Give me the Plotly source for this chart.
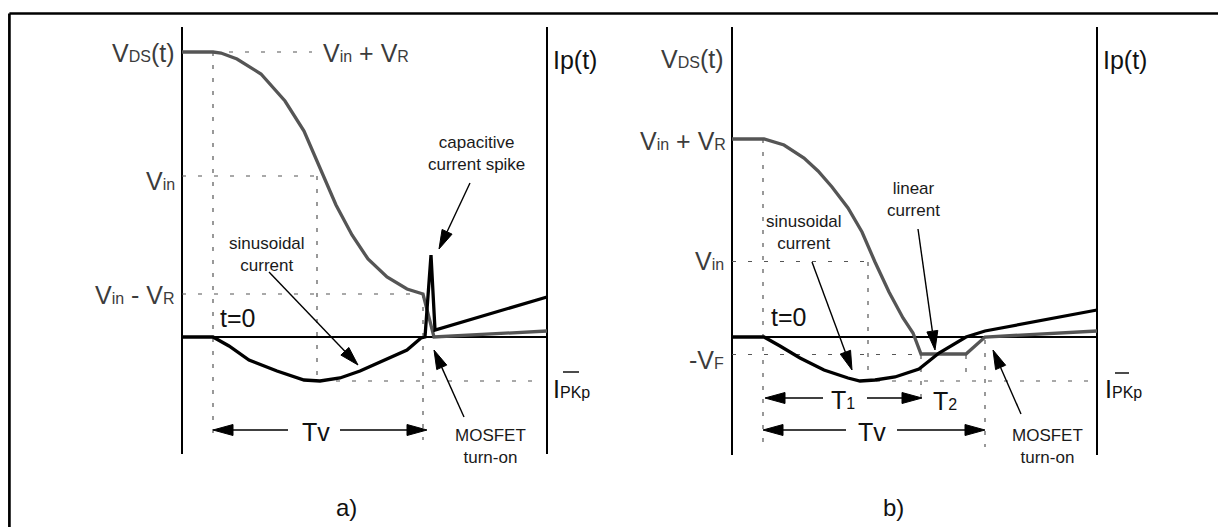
import math
import plotly.graph_objects as go

W, H = 1226, 527
OFF = 8  # the page body margin shifts the figure; the ranges compensate for it
FONT = "Liberation Sans, Arial, sans-serif"
GRAY = "#555555"
LABEL = "#3c3c3c"

# ---- panel a) waveforms (drawing coordinates, px) ----
vds_a_x = [182, 213, 221, 237, 261, 285, 304, 320, 336, 352, 368, 387, 407, 423, 434, 547]
vds_a_y = [52, 52, 53, 59, 74, 101, 131, 168, 205, 235, 259, 277, 289, 294, 337, 331]
ip_a_x = [182, 213, 229, 249, 277, 304, 320, 340, 360, 383, 407, 421, 425, 431, 435, 547]
ip_a_y = [337, 337, 346, 360, 371, 380, 381, 378, 371, 361, 350, 338, 337, 255, 330, 297]

# ---- panel b) waveforms ----
vds_b_x = [732, 764, 784, 804, 818, 832, 848, 862, 875, 889, 903, 913, 921, 966, 985, 1097]
vds_b_y = [139, 139, 145, 158, 171, 187, 208, 232, 262, 292, 318, 333, 354, 354, 337, 331]
ip_b_x = [732, 764, 780, 800, 824, 848, 860, 875, 895, 919, 939, 966, 985, 1097]
ip_b_y = [337, 337, 346, 358, 370, 378, 381, 380, 377, 369, 353, 337, 331, 310]

# axes: x, top, bottom
axes_v = [(182, 27, 454), (547, 27, 454), (732, 27, 455), (1097, 27, 455)]
# zero lines: x0, x1, y
zero_h = [(182, 547, 337), (732, 1097, 337)]
# dashed levels: x0, x1, y
levels_h = [(213, 312, 52), (182, 317, 176), (182, 423, 294), (320, 537, 381),
            (732, 868, 261.5), (732, 921, 354.5), (860, 1090, 381)]
# dotted time markers: x, y0, y1
marks_v = [(213, 52, 440), (317, 176, 380), (423, 294, 440),
           (763, 139, 447), (868, 262, 378), (921, 355, 398), (966, 355, 381), (985, 340, 447)]

# arrows: tail (x, y), tip (x, y)
dim_arrows = [((288, 430), (213, 430)), ((340, 430), (427, 430)),
              ((823, 398), (765, 398)), ((867, 398), (922, 398)),
              ((846, 430), (763, 430)), ((897, 430), (985, 430))]
note_arrows = [((470, 183), (439, 249)), ((269, 272), (358, 365)), ((464, 417), (434, 350)),
               ((812, 262), (852, 370)), ((918, 229), (935, 350)), ((1021, 414), (993, 350))]

# overline segments on the I_PKp labels: x0, x1, y
overlines = [(563, 579, 372), (1115, 1129, 373)]


def s(t):
    return f"<span style='font-size:16px'>{t}</span>"


# label text, x, y, anchor, size, colour
labels = [
    (f"V{s('DS')}(t)", 177, 53, "right", 25, LABEL),
    (f"V{s('in')} + V{s('R')}", 321, 53, "left", 25, LABEL),
    (f"V{s('in')}", 177, 181, "right", 25, LABEL),
    (f"V{s('in')} - V{s('R')}", 177, 295, "right", 25, LABEL),
    ("Ip(t)", 551, 60, "left", 25, "#111111"),
    (f"I{s('PKp')}", 551, 389, "left", 25, "#111111"),
    ("t=0", 218, 318, "left", 25, "#111111"),
    ("Tv", 316, 432, "center", 25, "#111111"),
    ("a)", 346, 507, "center", 24, "#111111"),
    (f"V{s('DS')}(t)", 726, 59, "right", 25, LABEL),
    (f"V{s('in')} + V{s('R')}", 728, 141, "right", 25, LABEL),
    (f"V{s('in')}", 726, 261, "right", 25, LABEL),
    (f"-V{s('F')}", 726, 360, "right", 25, LABEL),
    ("Ip(t)", 1101, 60, "left", 25, "#111111"),
    (f"I{s('PKp')}", 1103, 389, "left", 25, "#111111"),
    ("t=0", 769, 317, "left", 25, "#111111"),
    (f"T{s('1')}", 843, 400, "center", 25, "#111111"),
    (f"T{s('2')}", 945, 401, "center", 25, "#111111"),
    ("Tv", 872, 432, "center", 25, "#111111"),
    ("b)", 893, 507, "center", 24, "#111111"),
]
notes = [
    ("capacitive<br>current spike", 476, 153),
    ("sinusoidal<br>current", 267, 254),
    ("MOSFET<br>turn-on", 490, 446),
    ("sinusoidal<br>current", 804, 232),
    ("linear<br>current", 913, 199),
    ("MOSFET<br>turn-on", 1047, 446),
]

fig = go.Figure()


def line(x, y, color="black", width=2, dash=None, fill=None):
    fig.add_trace(go.Scatter(x=x, y=y, mode="lines", hoverinfo="skip", showlegend=False,
                             fill=fill, fillcolor=color,
                             line=dict(color=color, width=width, dash=dash)))


def head(tail, tip, length=19, half=5.5):
    (x0, y0), (x1, y1) = tail, tip
    d = math.hypot(x1 - x0, y1 - y0)
    ux, uy = (x1 - x0) / d, (y1 - y0) / d
    bx, by = x1 - ux * length, y1 - uy * length
    return ([x1, bx - uy * half, bx + uy * half, x1],
            [y1, by + ux * half, by - ux * half, y1], (bx, by))


# outer frame (only top and left edges are visible)
line([9.4, W + OFF], [13.5, 13.5], width=2.7)
line([9.4, 9.4], [13.5, H + OFF], width=2.7)

for x, y0, y1 in axes_v:
    line([x, x], [y0, y1], width=2)
for x0, x1, y in zero_h:
    line([x0, x1], [y, y], width=2)
for x0, x1, y in levels_h:
    line([x0, x1], [y, y], color=GRAY, width=1.2, dash="4px,12px")
for x, y0, y1 in marks_v:
    line([x, x], [y0, y1], color=GRAY, width=1.2, dash="4px,9px")

line(vds_a_x, vds_a_y, color=GRAY, width=3.3)
line(ip_a_x, ip_a_y, color="black", width=3.3)
line(vds_b_x, vds_b_y, color=GRAY, width=3.3)
line(ip_b_x, ip_b_y, color="black", width=3.3)

for tail, tip in dim_arrows:
    hx, hy, base = head(tail, tip, 20, 5.5)
    line([tail[0], base[0]], [tail[1], base[1]], width=1.6)
    line(hx, hy, width=1, fill="toself")
for tail, tip in note_arrows:
    hx, hy, base = head(tail, tip, 19, 5.5)
    line([tail[0], base[0]], [tail[1], base[1]], width=1.4)
    line(hx, hy, width=1, fill="toself")

for x0, x1, y in overlines:
    line([x0, x1], [y, y], color="#111111", width=1.5)

for text, x, y, anchor, size, color in labels:
    fig.add_annotation(x=x, y=y, text=text, showarrow=False, xanchor=anchor, yanchor="middle",
                       font=dict(family=FONT, size=size, color=color))
for text, x, y in notes:
    fig.add_annotation(x=x, y=y, text=text, showarrow=False, xanchor="center", yanchor="middle",
                       font=dict(family=FONT, size=17, color="#1a1a1a"))

fig.update_layout(width=W, height=H, margin=dict(l=0, r=0, t=0, b=0),
                  paper_bgcolor="white", plot_bgcolor="white",
                  xaxis=dict(range=[OFF, W + OFF], visible=False, fixedrange=True),
                  yaxis=dict(range=[H + OFF, OFF], visible=False, fixedrange=True))
fig.write_html("out.html")
